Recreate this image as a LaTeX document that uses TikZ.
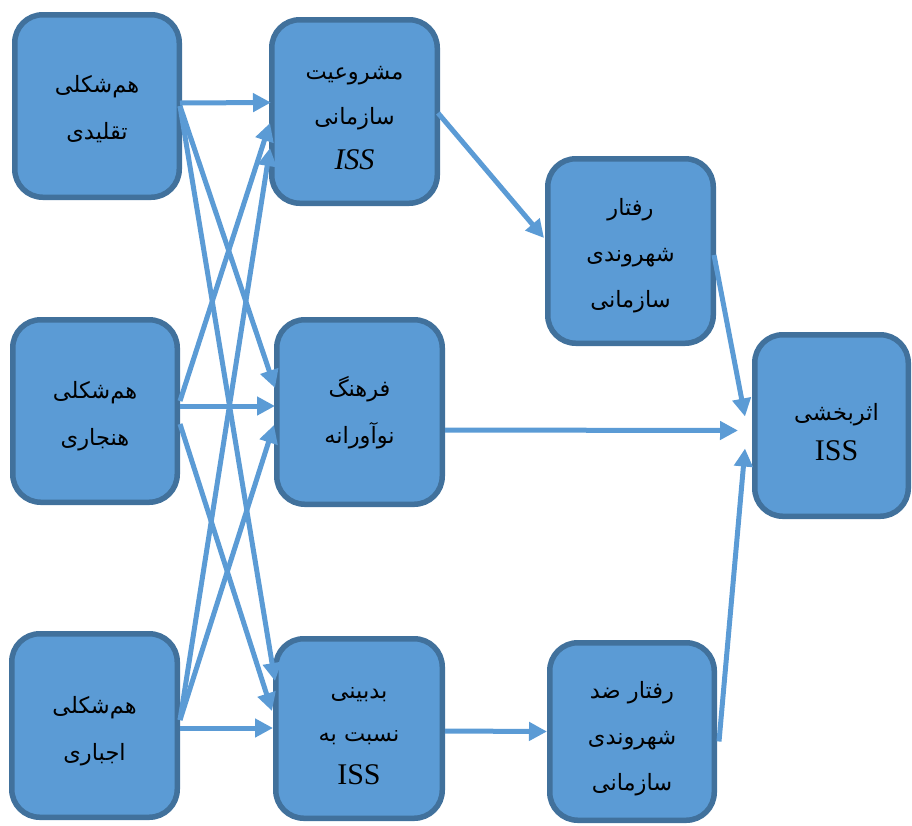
\documentclass[tikz,border=0pt]{standalone}
\usepackage{fontspec}
\setmainfont{Liberation Serif}
\newfontfamily\fafont[Script=Arabic]{DejaVu Sans}
\TeXXeTstate=1
\usetikzlibrary{arrows.meta,calc}
\definecolor{boxfill}{HTML}{5B9BD5}
\definecolor{boxline}{HTML}{41719C}
\newcommand\falin[1]{\beginR #1\endR}
\newcommand\issup{{\rmfamily\fontsize{30}{44}\selectfont ISS}}
\newcommand\issit{{\rmfamily\itshape\fontsize{30}{44}\selectfont ISS}}
\begin{document}
\begin{tikzpicture}[x=1pt,y=-1pt,
  blk/.style={draw=boxline, fill=boxfill, line width=5.5pt, rounded corners=28pt,
    inner sep=0pt},
  txt/.style={inner sep=0pt, align=center, text=black,
    font=\fafont\fontsize{22.5}{47}\selectfont},
  conn/.style={draw=boxfill, line width=5pt, -{Triangle[length=18pt,width=18pt]}},
]
\useasboundingbox (0,0) rectangle (912,825);

% boxes
\node[blk, minimum width=164.5pt, minimum height=182.5pt] (a1) at (97,106) {};
\node[blk, minimum width=164.5pt, minimum height=182.5pt] (a2) at (95,411) {};
\node[blk, minimum width=165.5pt, minimum height=183.5pt] (a3) at (94.5,725.5) {};
\node[blk, minimum width=165.5pt, minimum height=183.5pt] (b1) at (354.5,111.5) {};
\node[blk, minimum width=165.5pt, minimum height=184.5pt] (b2) at (359.5,412) {};
\node[blk, minimum width=166.5pt, minimum height=179.5pt] (b3) at (359,728.5) {};
\node[blk, minimum width=165.5pt, minimum height=184.5pt] (c1) at (630.5,251) {};
\node[blk, minimum width=164.5pt, minimum height=177.5pt] (c3) at (632,731.5) {};
\node[blk, minimum width=153.5pt, minimum height=181.5pt] (d) at (831.5,425.5) {};

% texts
\node[txt] (a1t) at ($(a1.center)+(0,3)$) {\falin{هم‌شکلی}\\\falin{تقلیدی}};
\node[txt] (a2t) at ($(a2.center)+(0,5)$) {\falin{هم‌شکلی}\\\falin{هنجاری}};
\node[txt] (a3t) at ($(a3.center)+(0,6)$) {\falin{هم‌شکلی}\\\falin{اجباری}};
\node[txt, font=\fafont\fontsize{22.5}{45}\selectfont] (b1t) at ($(b1.center)+(0,7)$)
  {\falin{مشروعیت}\\\falin{سازمانی}\\\issit};
\node[txt] (b2t) at ($(b2.center)+(0,1)$) {\falin{فرهنگ}\\\falin{نوآورانه}};
\node[txt, font=\fafont\fontsize{22.5}{43}\selectfont] (b3t) at ($(b3.center)+(0,8)$)
  {\falin{بدبینی}\\\falin{نسبت به}\\\issup};
\node[txt, font=\fafont\fontsize{22.5}{46}\selectfont] (c1t) at ($(c1.center)+(0,5)$)
  {\falin{رفتار}\\\falin{شهروندی}\\\falin{سازمانی}};
\node[txt, font=\fafont\fontsize{22.5}{46}\selectfont] (c3t) at ($(c3.center)+(0,7)$)
  {\falin{رفتار ضد}\\\falin{شهروندی}\\\falin{سازمانی}};
\node[txt, font=\fafont\fontsize{22.5}{40}\selectfont] (dt) at ($(d.center)+(5,7)$)
  {\falin{اثربخشی}\\\issup};

% connectors from left column
\draw[conn] ($(a1.east)+(-2,-3)$) -- ($(b1.west)+(2,-9)$);
\draw[conn] ($(a1.east)+(-2,0)$) -- ($(b2.west)+(1,-24)$);
\draw[conn] ($(a1.east)+(-2,0)$) -- ($(b3.west)+(2,-47.5)$);
\draw[conn] ($(a2.east)+(0,-10)$) -- ($(b1.west)+(1,11.5)$);
\draw[conn] ($(a2.east)+(0,-5)$) -- ($(b2.west)+(1,-6)$);
\draw[conn] ($(a2.east)+(0,13)$) -- ($(b3.west)+(-1,-17.5)$);
\draw[conn] ($(a3.east)+(0,-5.5)$) -- ($(b1.west)+(1,36.5)$);
\draw[conn] ($(a3.east)+(0,-5.5)$) -- ($(b2.west)+(0,13)$);
\draw[conn] ($(a3.east)+(0,2.5)$) -- ($(b3.west)+(0,-0.5)$);
% right part
\draw[conn] ($(b1.east)+(-2,1.5)$) -- ($(c1.west)+(-1,-13)$);
\draw[conn] ($(c1.east)+(-2,4)$) -- ($(d.west)+(-7,-9)$);
\draw[conn] ($(b2.east)+(0,18)$) -- ($(d.west)+(-14,5)$);
\draw[conn] ($(c3.east)+(2,10)$) -- ($(d.west)+(-7,23)$);
\draw[conn] ($(b3.east)+(0,2.5)$) -- ($(c3.west)+(0,0)$);
\end{tikzpicture}
\end{document}
